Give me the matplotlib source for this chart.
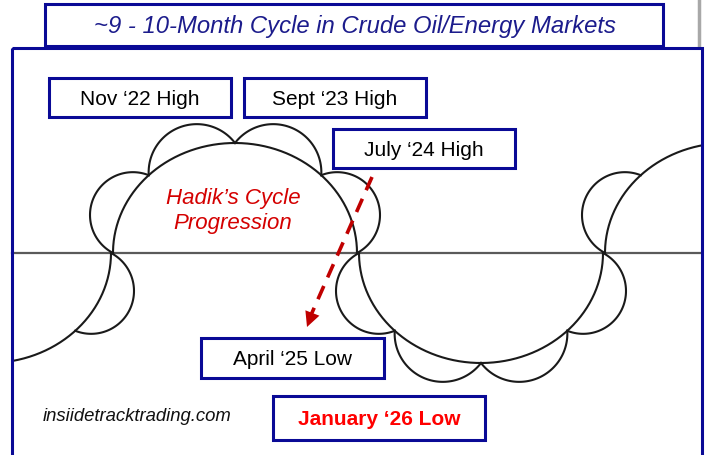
import matplotlib.pyplot as plt
import numpy as np
from matplotlib.patches import Rectangle

plt.rcParams["font.family"] = ["Liberation Sans", "DejaVu Sans"]

# Texts
title = "~9 - 10-Month Cycle in Crude Oil/Energy Markets"
turn_labels = ["Nov \u201822 High", "Sept \u201823 High", "July \u201824 High",
               "April \u201825 Low", "January \u201826 Low"]
turn_colors = ["black", "black", "black", "black", "#ff0000"]
turn_bold = [False, False, False, False, True]
note = "Hadik\u2019s Cycle\nProgression"
site = "insiidetracktrading.com"

# Cycle geometry (half-cycles along the baseline, -1 = crest, +1 = trough)
cycle_x = [-11, 235, 481, 727]
cycle_side = [1, -1, 1, -1]
lobes_shown = [[3], [0, 1, 2, 3], [0, 1, 2, 3], [0]]
lobe_bulge = [0.95, 0.74, 0.74, 0.95]
base_y = 254
half_w, half_h = 122, 110

fig = plt.figure(figsize=(7.08, 4.56), dpi=100)
ax = fig.add_axes([0, 0, 1, 1])
ax.set_xlim(0, 708)
ax.set_ylim(456, 0)
ax.axis("off")

blue = "#0a0a96"

# outer frame
frame = Rectangle((12, 49), 690, 420, fill=False, ec=blue, lw=2.2, zorder=6)
ax.add_patch(frame)
clip = Rectangle((12, 49), 690, 420, transform=ax.transData)
ax.plot([699, 699], [0, 48], color="#a8a8a8", lw=2.5)

# baseline
ax.plot([12, 702], [base_y, base_y], color="#5a5a5a", lw=1.6, zorder=2)

t = np.linspace(0, np.pi, 200)
for cx, side, shown in zip(cycle_x, cycle_side, lobes_shown):
    xs = cx + half_w * np.cos(t)
    ys = base_y + side * half_h * np.sin(t)
    ln, = ax.plot(xs, ys, color="#1a1a1a", lw=1.5, zorder=3)
    ln.set_clip_path(clip)
    # scallops around the big arc, from left to right
    edges = np.linspace(np.pi, 0, 5)
    for i in shown:
        p1 = np.array([cx + half_w * np.cos(edges[i]), base_y + side * half_h * np.sin(edges[i])])
        p2 = np.array([cx + half_w * np.cos(edges[i + 1]), base_y + side * half_h * np.sin(edges[i + 1])])
        m = (p1 + p2) / 2
        d = p2 - p1
        c = np.hypot(*d) / 2
        n = np.array([-d[1], d[0]]) / (2 * c)
        if np.dot(n, m - np.array([cx, base_y])) < 0:
            n = -n
        h = lobe_bulge[i] * c
        r = (c ** 2 + h ** 2) / (2 * h)
        o = m - n * (r - h)
        apex = np.arctan2(n[1], n[0])
        a = np.arcsin(min(c / r, 1.0))
        ph = np.linspace(apex - a, apex + a, 80)
        ln, = ax.plot(o[0] + r * np.cos(ph), o[1] + r * np.sin(ph), color="#1a1a1a", lw=1.5, zorder=3)
        ln.set_clip_path(clip)

# title box
ax.add_patch(Rectangle((45, 5), 618, 42, fc="white", ec=blue, lw=2.2, zorder=5))
ax.text(355, 27, title, ha="center", va="center", fontsize=17.2, style="italic",
        color="#1c1c8c", zorder=7)

# label boxes
boxes = [(49, 79, 182, 39), (244, 79, 182, 39), (333, 130, 182, 39),
         (201, 339, 183, 40), (273, 397, 212, 44)]
for (bx, by, bw, bh), lab, col, bold in zip(boxes, turn_labels, turn_colors, turn_bold):
    ax.add_patch(Rectangle((bx, by), bw, bh, fc="white", ec=blue, lw=2.2, zorder=5))
    ax.text(bx + bw / 2, by + bh / 2 + 1, lab, ha="center", va="center", fontsize=15,
            color=col, fontweight="bold" if bold else "normal", zorder=7)

ax.text(233, 211, note, ha="center", va="center", fontsize=16, style="italic",
        color="#d40000", linespacing=1.3, zorder=7)
ax.text(43, 417, site, ha="left", va="center", fontsize=13.3, style="italic",
        color="#111111", zorder=7)

# dashed progression arrow
ax.plot([372, 311], [178, 316], color="#c00000", lw=2.6, ls=(0, (4, 2.6)), zorder=4)
ax.annotate("", xy=(307, 328), xytext=(312, 315),
            arrowprops=dict(arrowstyle="-|>,head_length=0.9,head_width=0.45",
                            color="#c00000", lw=0, mutation_scale=12,
                            shrinkA=0, shrinkB=0), zorder=4)

fig.savefig("out.png", dpi=100)
